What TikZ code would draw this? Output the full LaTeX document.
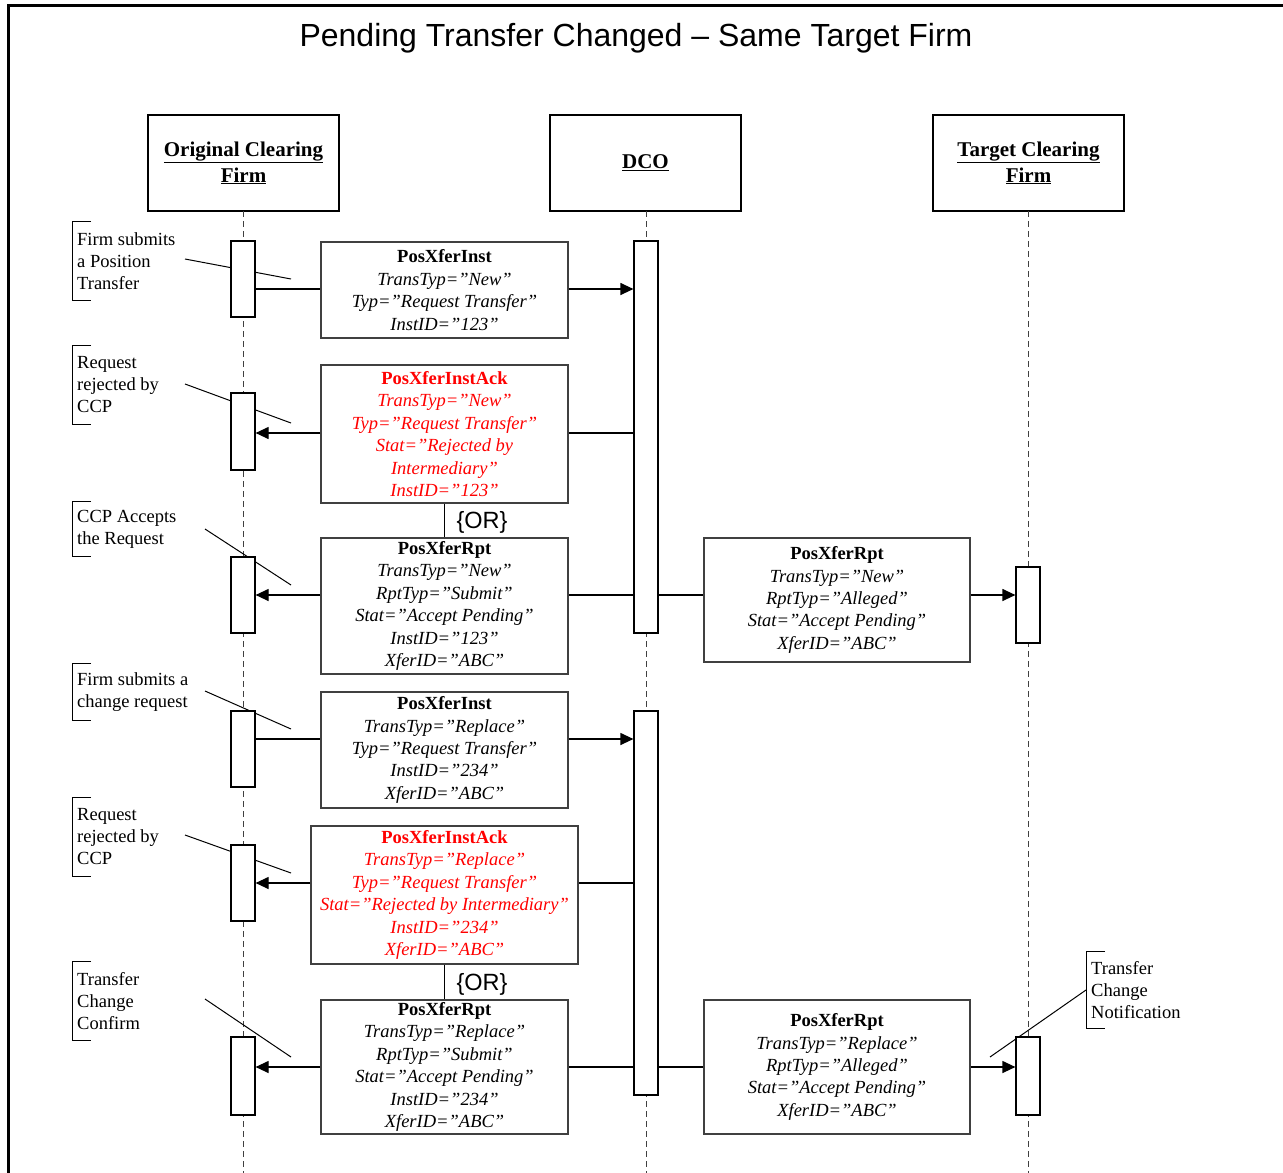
\documentclass[tikz,border=0pt]{standalone}
\usepackage{fontspec}
\setmainfont{Liberation Serif}
\newfontfamily\arialfont{Liberation Sans}
\usepackage{tikz}
\usetikzlibrary{arrows.meta, positioning, calc}
\definecolor{rejectred}{HTML}{FF0000}
\newcommand{\mhead}[1]{\textup{\textbf{#1}}}

\begin{document}
\begin{tikzpicture}[x=1pt, y=-1pt,
  head/.style={rectangle, draw, line width=1.3pt, minimum width=191pt, minimum height=96pt,
    align=center, font=\fontsize{21}{26}\selectfont\bfseries},
  lifeline/.style={line width=1pt, black!75, dash pattern=on 6pt off 4pt},
  bar/.style={rectangle, draw, line width=1.2pt, fill=white, minimum width=24pt, inner sep=0pt},
  msg/.style={rectangle, draw=black!75, line width=1.2pt, fill=white, inner sep=0pt,
    align=center, font=\fontsize{18.5}{22.4}\selectfont\itshape},
  note/.style={anchor=west, align=left, inner xsep=5pt, inner ysep=0pt,
    font=\fontsize{18.5}{22}\selectfont},
  callout/.style={line width=1pt},
  link/.style={line width=1.2pt},
  arrow/.style={-{Triangle[length=13pt,width=12pt]}, line width=1.2pt}
]
  \useasboundingbox (0,0) rectangle (1283,1173);
  \coordinate (bottom) at (0,1173);

  % frame and title
  \draw[line width=3pt] (8,1173) -- (8,5) -- (1283,5);
  \node[font=\arialfont\fontsize{32}{38}\selectfont] (title) at (636,38.5)
    {Pending Transfer Changed – Same Target Firm};

  % lifeline heads
  \node[head] (ocf) at (243.5,163) {\underline{Original Clearing}\\\underline{Firm}};
  \node[head] (dco) at (645.5,163) {\underline{DCO}};
  \node[head] (tcf) at (1028.5,163) {\underline{Target Clearing}\\\underline{Firm}};

  \draw[lifeline] (243,211) -- (243,1173);
  \draw[lifeline] (646,211) -- (646,1173);
  \draw[lifeline] (1028,211) -- (1028,1173);

  % notes
  \node[note, minimum height=78pt] (n1) at (72,261) {Firm submits\\a Position\\Transfer};
  \node[note, minimum height=78pt] (n2) at (72,385) {Request\\rejected by\\CCP};
  \node[note, minimum height=54pt] (n3) at (72,529) {CCP Accepts\\the Request};
  \node[note, minimum height=56pt] (n4) at (72,692) {Firm submits a\\change request};
  \node[note, minimum height=78pt] (n5) at (72,837) {Request\\rejected by\\CCP};
  \node[note, minimum height=78pt] (n6) at (72,1001) {Transfer\\Change\\Confirm};
  \node[note, minimum height=76pt] (n7) at (1086,990) {Transfer\\Change\\Notification};
  \foreach \n in {n1,n2,n3,n4,n5,n6,n7}
    \draw[line width=1pt] ([xshift=19pt]\n.north west) -- (\n.north west)
      -- (\n.south west) -- ++(19,0);

  \coordinate (n1s) at (185,259);  \coordinate (n1t) at (291,279);
  \coordinate (n2s) at (185,384);  \coordinate (n2t) at (291,423);
  \coordinate (n3s) at (205,529);  \coordinate (n3t) at (291,585);
  \coordinate (n4s) at (205,691);  \coordinate (n4t) at (291,729);
  \coordinate (n5s) at (185,835);  \coordinate (n5t) at (291,873);
  \coordinate (n6s) at (205,999);  \coordinate (n6t) at (291,1057);
  \coordinate (n7s) at (1086,990); \coordinate (n7t) at (990,1057);
  \draw[callout] (n1s) -- (n1t);
  \draw[callout] (n2s) -- (n2t);
  \draw[callout] (n3s) -- (n3t);
  \draw[callout] (n4s) -- (n4t);
  \draw[callout] (n5s) -- (n5t);
  \draw[callout] (n6s) -- (n6t);
  \draw[callout] (n7s) -- (n7t);

  % activation bars
  \node[bar, minimum height=76pt] (o1) at (243,279) {};
  \node[bar, minimum height=77pt] (o2) at (243,431.5) {};
  \node[bar, minimum height=76pt] (o3) at (243,595) {};
  \node[bar, minimum height=76pt] (o4) at (243,749) {};
  \node[bar, minimum height=76pt] (o5) at (243,883) {};
  \node[bar, minimum height=78pt] (o6) at (243,1076) {};
  \node[bar, minimum height=392pt] (d1) at (646,437) {};
  \node[bar, minimum height=384pt] (d2) at (646,903) {};
  \node[bar, minimum height=76pt] (t1) at (1028,605) {};
  \node[bar, minimum height=78pt] (t2) at (1028,1076) {};

  % messages
  \node[msg, minimum width=247pt, minimum height=96pt] (m1) at (444.5,290) {
    \mhead{PosXferInst}\\
    TransTyp=”New”\\
    Typ=”Request Transfer”\\
    InstID=”123”};
  \node[msg, minimum width=247pt, minimum height=138pt, text=rejectred] (m2) at (444.5,434) {
    \mhead{PosXferInstAck}\\
    TransTyp=”New”\\
    Typ=”Request Transfer”\\
    Stat=”Rejected by\\
    Intermediary”\\
    InstID=”123”};
  \node[msg, minimum width=247pt, minimum height=136pt] (m3) at (444.5,606) {
    \mhead{PosXferRpt}\\
    TransTyp=”New”\\
    RptTyp=”Submit”\\
    Stat=”Accept Pending”\\
    InstID=”123”\\
    XferID=”ABC”};
  \node[msg, minimum width=266pt, minimum height=124pt] (m4) at (837,600) {
    \mhead{PosXferRpt}\\
    TransTyp=”New”\\
    RptTyp=”Alleged”\\
    Stat=”Accept Pending”\\
    XferID=”ABC”};
  \node[msg, minimum width=247pt, minimum height=116pt] (m5) at (444.5,750) {
    \mhead{PosXferInst}\\
    TransTyp=”Replace”\\
    Typ=”Request Transfer”\\
    InstID=”234”\\
    XferID=”ABC”};
  \node[msg, minimum width=267pt, minimum height=138pt, text=rejectred] (m6) at (444.5,895) {
    \mhead{PosXferInstAck}\\
    TransTyp=”Replace”\\
    Typ=”Request Transfer”\\
    Stat=”Rejected by Intermediary”\\
    InstID=”234”\\
    XferID=”ABC”};
  \node[msg, minimum width=247pt, minimum height=134pt] (m7) at (444.5,1067) {
    \mhead{PosXferRpt}\\
    TransTyp=”Replace”\\
    RptTyp=”Submit”\\
    Stat=”Accept Pending”\\
    InstID=”234”\\
    XferID=”ABC”};
  \node[msg, minimum width=266pt, minimum height=134pt] (m8) at (837,1067) {
    \mhead{PosXferRpt}\\
    TransTyp=”Replace”\\
    RptTyp=”Alleged”\\
    Stat=”Accept Pending”\\
    XferID=”ABC”};

  % message rows
  \coordinate (r1) at (0,289);
  \coordinate (r2) at (0,433);
  \coordinate (r3) at (0,595);
  \coordinate (r4) at (0,739);
  \coordinate (r5) at (0,883);
  \coordinate (r6) at (0,1067);

  \draw[link] (r1 -| o1.east) -- (r1 -| m1.west);
  \draw[arrow] (r1 -| m1.east) -- (r1 -| d1.west);
  \draw[link] (r2 -| d1.west) -- (r2 -| m2.east);
  \draw[arrow] (r2 -| m2.west) -- (r2 -| o2.east);
  \draw[link] (r3 -| d1.west) -- (r3 -| m3.east);
  \draw[arrow] (r3 -| m3.west) -- (r3 -| o3.east);
  \draw[link] (r3 -| d1.east) -- (r3 -| m4.west);
  \draw[arrow] (r3 -| m4.east) -- (r3 -| t1.west);
  \draw[link] (r4 -| o4.east) -- (r4 -| m5.west);
  \draw[arrow] (r4 -| m5.east) -- (r4 -| d2.west);
  \draw[link] (r5 -| d2.west) -- (r5 -| m6.east);
  \draw[arrow] (r5 -| m6.west) -- (r5 -| o5.east);
  \draw[link] (r6 -| d2.west) -- (r6 -| m7.east);
  \draw[arrow] (r6 -| m7.west) -- (r6 -| o6.east);
  \draw[link] (r6 -| d2.east) -- (r6 -| m8.west);
  \draw[arrow] (r6 -| m8.east) -- (r6 -| t2.west);

  % alternatives
  \draw[link] (m2.south) -- (m3.north);
  \draw[link] (m6.south) -- (m7.north);
  \node[font=\arialfont\fontsize{23.5}{28}\selectfont] (or1) at (482,522) {\{OR\}};
  \node[font=\arialfont\fontsize{23.5}{28}\selectfont] (or2) at (482,984) {\{OR\}};
\end{tikzpicture}
\end{document}
